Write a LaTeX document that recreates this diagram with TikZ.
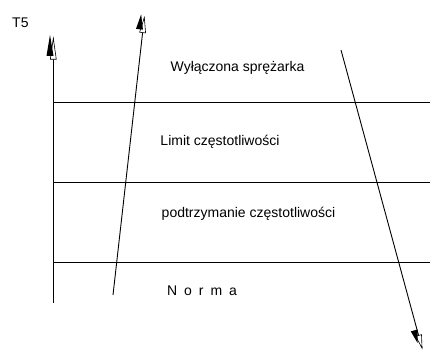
\documentclass[tikz,border=0pt]{standalone}
\usepackage{fontspec}
\setmainfont{Liberation Sans}
\begin{document}
\begin{tikzpicture}[x=1pt,y=1pt,
  lbl/.style={inner sep=0pt,anchor=base,font=\fontsize{14}{16}\selectfont},
  ln/.style={line width=0.9pt,black}]
\useasboundingbox (0,0) rectangle (430,352);
% #1 tip of open head (end of line), #2 angle, #3 length,
% #4,#5 offset of the black head (forward, left)
\newcommand\arrpair[5]{%
  \begin{scope}[shift={(#1)},rotate=#2]
    \filldraw[fill=white,line width=0.6pt] (0,0) -- (-#3,-3) -- (-#3,3) -- cycle;
    \fill (#4,#5) -- ++(-#3,-3.5) -- ++(0,7) -- cycle;
  \end{scope}}
% coordinates
\coordinate (ax0) at (53.3,49);
\coordinate (ax1) at (53.3,313.7);
\coordinate (h1l) at (53,250); \coordinate (h1r) at (430,250);
\coordinate (h2l) at (53,170); \coordinate (h2r) at (430,170);
\coordinate (h3l) at (53,90);  \coordinate (h3r) at (430,90);
\coordinate (d1a) at (113,57); \coordinate (d1b) at (144.3,334.3);
\coordinate (d2a) at (341,302); \coordinate (d2b) at (422,4);
% lines
\draw[ln] (ax0) -- (ax1);
\draw[ln] (h1l) -- (h1r);
\draw[ln] (h2l) -- (h2r);
\draw[ln] (h3l) -- (h3r);
\draw[ln] (d1a) -- (d1b);
\draw[ln] (d2a) -- (d2b);
% arrow heads
\arrpair{ax1}{90}{21}{3.3}{3.3}
\arrpair{d1b}{83.6}{15}{3}{3.5}
\arrpair{d2b}{-74.8}{13}{-6}{-3}
% texts
\node[lbl,anchor=base west] (t5) at (12,324) {T5};
\node[lbl] (wyl) at (237.5,280) {Wyłączona sprężarka};
\node[lbl] (lim) at (220,206) {Limit częstotliwości};
\node[lbl] (pod) at (248.5,134) {podtrzymanie częstotliwości};
\node[lbl] (nor) at (202,56) {N\hspace{7pt}o\hspace{7pt}r\hspace{7pt}m\hspace{7pt}a};
\end{tikzpicture}
\end{document}
